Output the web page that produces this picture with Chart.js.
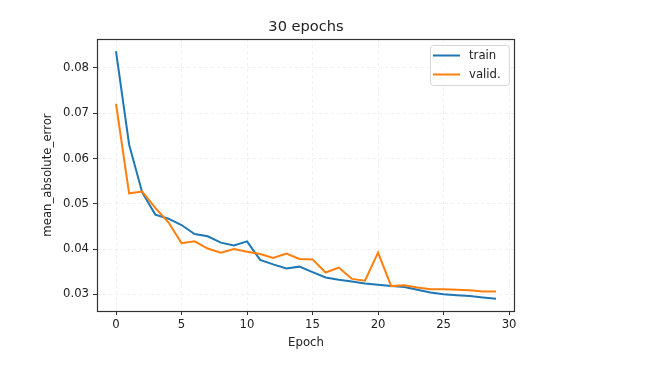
<!DOCTYPE html>
<html>
<head>
<meta charset="utf-8">
<script src="https://cdn.jsdelivr.net/npm/chart.js@4.4.1/dist/chart.umd.min.js"></script>
<style>
  html, body { margin: 0; padding: 0; background: #fff; }
  canvas { display: block; }
</style>
</head>
<body>
<canvas id="mae" width="645" height="379"></canvas>
<script>
// values
const epochs = [0, 1, 2, 3, 4, 5, 6, 7, 8, 9, 10, 11, 12, 13, 14, 15, 16, 17, 18, 19, 20, 21, 22, 23, 24, 25, 26, 27, 28, 29];
const train = [0.0837, 0.0631, 0.0525, 0.0476, 0.0467, 0.0453, 0.0433, 0.0428, 0.0414, 0.0408, 0.0417, 0.0376, 0.0366, 0.0357, 0.0361, 0.0349, 0.0337, 0.0332, 0.0328, 0.0324, 0.0321, 0.0318, 0.0316, 0.0310, 0.0304, 0.0300, 0.0298, 0.0296, 0.0293, 0.0290];
const valid = [0.0721, 0.0523, 0.0527, 0.0491, 0.0459, 0.0413, 0.0417, 0.0401, 0.0392, 0.0400, 0.0394, 0.0389, 0.0380, 0.0390, 0.0378, 0.0377, 0.0348, 0.0359, 0.0334, 0.0330, 0.0392, 0.0318, 0.0320, 0.0315, 0.0311, 0.0311, 0.0310, 0.0309, 0.0306, 0.0306];
const xTicks = [0, 5, 10, 15, 20, 25, 30];
const yTicks = [0.03, 0.04, 0.05, 0.06, 0.07, 0.08];

const FONT = 'DejaVu Sans';
const TXT = '#222';

// matplotlib style frame + legend inside the axes
const mplLook = {
  id: 'mplLook',
  afterDraw(chart) {
    const ctx = chart.ctx;
    const a = chart.chartArea;
    ctx.save();
    ctx.strokeStyle = '#333';
    ctx.lineWidth = 1.2;
    ctx.strokeRect(Math.round(a.left) + 0.5, Math.round(a.top) + 0.5,
      Math.round(a.right - a.left) - 1, Math.round(a.bottom - a.top));

    // legend
    const bx = 430.5, by = 45.5, bw = 79, bh = 40;
    ctx.fillStyle = 'rgba(255,255,255,0.8)';
    ctx.strokeStyle = '#d6d6d6';
    ctx.lineWidth = 1;
    ctx.beginPath();
    ctx.roundRect(bx, by, bw, bh, 3);
    ctx.fill();
    ctx.stroke();
    ctx.font = '11.7px "' + FONT + '"';
    ctx.textBaseline = 'middle';
    chart.data.datasets.forEach((ds, i) => {
      const y = 55.5 + i * 19;
      ctx.strokeStyle = ds.borderColor;
      ctx.lineWidth = 2;
      ctx.beginPath();
      ctx.moveTo(433, y);
      ctx.lineTo(460, y);
      ctx.stroke();
      ctx.fillStyle = TXT;
      ctx.fillText(ds.label, 469, y);
    });
    ctx.restore();
  }
};

new Chart(document.getElementById('mae'), {
  type: 'line',
  data: {
    datasets: [{
      label: 'train',
      data: epochs.map((e, i) => ({x: e, y: train[i]})),
      borderColor: '#1f77b4',
      borderWidth: 2,
      pointRadius: 0,
      tension: 0,
      order: 1
    }, {
      label: 'valid.',
      data: epochs.map((e, i) => ({x: e, y: valid[i]})),
      borderColor: '#ff7f0e',
      borderWidth: 2,
      pointRadius: 0,
      tension: 0,
      order: 0
    }]
  },
  options: {
    responsive: false,
    animation: false,
    layout: { padding: { left: 0, top: 0, right: 130, bottom: 0 } },
    plugins: {
      legend: { display: false },
      tooltip: { enabled: false },
      title: {
        display: true,
        text: '30 epochs',
        fullSize: false,
        color: TXT,
        font: { family: FONT, size: 14.6, weight: 'normal' },
        padding: { top: 18, bottom: 3.5 }
      }
    },
    scales: {
      x: {
        type: 'linear',
        min: -1.45,
        max: 30.45,
        afterBuildTicks: s => { s.ticks = xTicks.map(v => ({value: v})); },
        afterFit: s => { s.height = 68; },
        ticks: {
          color: TXT,
          padding: 3,
          maxRotation: 0,
          font: { family: FONT, size: 11.7 },
          callback: v => String(v)
        },
        grid: {
          color: 'rgba(0,0,0,0.06)',
          tickColor: '#333',
          tickLength: 4,
          tickWidth: 1
        },
        border: { display: false, dash: [3, 3] },
        title: {
          display: true,
          text: 'Epoch',
          color: TXT,
          font: { family: FONT, size: 11.7 },
          padding: { top: 0, bottom: 29 }
        }
      },
      y: {
        type: 'linear',
        min: 0.0263,
        max: 0.0864,
        afterBuildTicks: s => { s.ticks = yTicks.map(v => ({value: v})); },
        afterFit: s => { s.width = 97; },
        ticks: {
          color: TXT,
          padding: 4,
          font: { family: FONT, size: 11.7 },
          callback: v => v.toFixed(2)
        },
        grid: {
          color: 'rgba(0,0,0,0.06)',
          tickColor: '#333',
          tickLength: 4,
          tickWidth: 1
        },
        border: { display: false, dash: [3, 3] },
        title: {
          display: true,
          text: 'mean_absolute_error',
          color: TXT,
          font: { family: FONT, size: 11.7 },
          padding: { top: 41, bottom: 0 }
        }
      }
    }
  },
  plugins: [mplLook]
});
</script>
</body>
</html>
